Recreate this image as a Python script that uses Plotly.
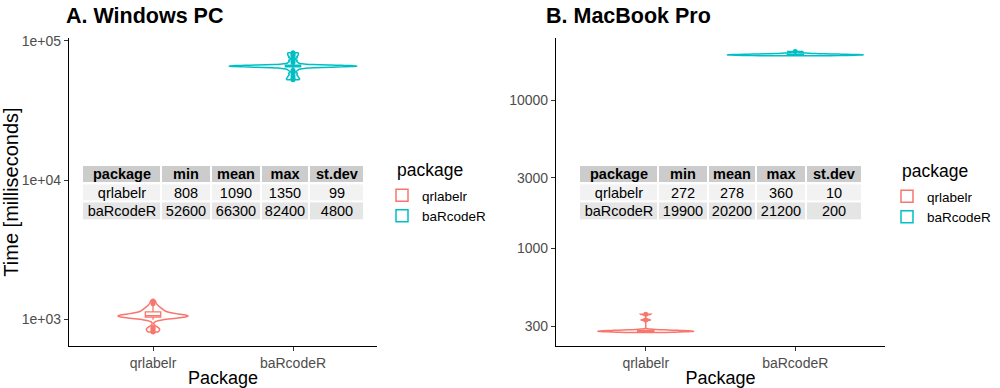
import plotly.graph_objects as go

# ---------------- data ----------------
packages = ["qrlabelr", "baRcodeR"]

# timing samples (milliseconds)
win_qrlabelr = [808, 830, 850, 870, 990, 1010, 1020, 1025, 1030, 1035, 1040,
                1040, 1045, 1045, 1050, 1050, 1055, 1055, 1060, 1065, 1070, 1075,
                1080, 1090, 1100, 1110, 1120, 1135, 1150, 1165, 1180, 1200, 1220,
                1250, 1290, 1350]
win_barcoder = [52600, 54000, 56000, 58500, 61500, 63500, 64500, 65200, 65600,
                65750, 65800, 65850, 65900, 65950, 66000, 66000, 66050, 66100,
                66150, 66200, 66300, 66500, 67000, 68000, 70000, 72500, 76000,
                78500, 80500, 82400]
mac_qrlabelr = [272, 273, 274, 275, 275, 276, 276, 277, 277, 278, 278, 279, 279,
                280, 281, 282, 284, 330, 360]
mac_barcoder = [19900, 19950, 20000, 20050, 20100, 20100, 20150, 20200, 20200,
                20250, 20300, 20350, 20400, 20500, 20700, 21200]

table_header = ["package", "min", "mean", "max", "st.dev"]
win_min = [808, 52600]
win_mean = [1090, 66300]
win_max = [1350, 82400]
win_sd = [99, 4800]
mac_min = [272, 19900]
mac_mean = [278, 20200]
mac_max = [360, 21200]
mac_sd = [10, 200]

win_ticks = [1e3, 1e4, 1e5]
win_ticktext = ["1e+03", "1e+04", "1e+05"]
mac_ticks = [300, 1000, 3000, 10000]
mac_ticktext = ["300", "1000", "3000", "10000"]

# ---------------- style ----------------
RED = "#F8766D"
TEAL = "#00BFC4"
FONT = "Liberation Sans"
W, H = 1000, 388


def px_x(p):
    return p / W


def px_y(p):
    return 1 - p / H


fig = go.Figure()


def add_violin(vals, cat, color, vwidth, bwidth, xa, ya, leg, bw=None):
    fig.add_trace(go.Violin(
        x=[cat] * len(vals), y=vals, name=cat, legendgroup=cat + leg,
        legend=leg, showlegend=True,
        line=dict(color=color, width=1.5), fillcolor="rgba(255,255,255,0)",
        width=vwidth, spanmode="hard", scalemode="width", bandwidth=bw,
        box=dict(visible=True, width=bwidth, fillcolor="white",
                 line=dict(color=color, width=1.3)),
        meanline=dict(visible=False),
        points="outliers", pointpos=0, jitter=0,
        marker=dict(color=color, size=5),
        xaxis=xa, yaxis=ya, hoverinfo="skip"))


add_violin(win_qrlabelr, "qrlabelr", RED, 0.5, 0.22, "x", "y", "legend", 30)
add_violin(win_barcoder, "baRcodeR", TEAL, 0.91, 0.12, "x", "y", "legend", 1000)
add_violin(mac_qrlabelr, "qrlabelr", RED, 0.64, 0.17, "x2", "y2", "legend2")
add_violin(mac_barcoder, "baRcodeR", TEAL, 0.91, 0.12, "x2", "y2", "legend2")


# ---- summary tables drawn as heatmap bricks (header + 2 rows) ----
def add_table(xa, ya, cols, widths):
    edges = [0]
    for w in widths:
        edges.append(edges[-1] + w)
    nrows = len(cols[0])
    cs = [[0, "#cccccc"], [0.5, "#f2f2f2"], [1, "#e5e5e5"]]
    fig.add_trace(go.Heatmap(
        x=edges, y=[0], z=[[0] * len(cols)], text=[table_header],
        texttemplate="%{text}", zmin=0, zmax=2, colorscale=cs,
        showscale=False, xgap=2, ygap=2, hoverinfo="skip",
        textfont=dict(family=FONT, size=14.5, color="black", weight="bold"),
        xaxis=xa, yaxis=ya, showlegend=False))
    body_text = [[str(c[r]) for c in cols] for r in range(nrows)]
    body_z = [[1 + (r % 2)] * len(cols) for r in range(nrows)]
    fig.add_trace(go.Heatmap(
        x=edges, y=list(range(1, nrows + 1)), z=body_z, text=body_text,
        texttemplate="%{text}", zmin=0, zmax=2, colorscale=cs,
        showscale=False, xgap=2, ygap=2, hoverinfo="skip",
        textfont=dict(family=FONT, size=14.5, color="black"),
        xaxis=xa, yaxis=ya, showlegend=False))
    return edges[-1]


tw1 = add_table("x3", "y3", [packages, win_min, win_mean, win_max, win_sd],
                [79, 50, 50, 48, 55])
tw2 = add_table("x4", "y4", [packages, mac_min, mac_mean, mac_max, mac_sd],
                [79, 50, 48, 50, 56])

axis_common = dict(showline=True, linecolor="black", linewidth=1.2,
                   ticks="outside", ticklen=4, tickcolor="#333333",
                   showgrid=False, zeroline=False, automargin=False,
                   tickfont=dict(family=FONT, size=14, color="#4d4d4d"))
hidden = dict(visible=False, showgrid=False, zeroline=False, fixedrange=True,
              automargin=False)

ydom = [px_y(346), px_y(38)]
tdom_y = [px_y(220), px_y(165)]

fig.update_layout(
    width=W, height=H,
    margin=dict(l=0, r=0, t=0, b=0, autoexpand=False),
    paper_bgcolor="white", plot_bgcolor="rgba(0,0,0,0)",
    violinmode="overlay",
    font=dict(family=FONT, color="black"),
    xaxis=dict(domain=[px_x(69), px_x(377)], anchor="y", type="category",
               categoryorder="array", categoryarray=packages, range=[-0.6, 1.6],
               title=dict(text="Package", font=dict(size=18, family=FONT), standoff=3),
               **axis_common),
    yaxis=dict(domain=ydom, anchor="x", type="log", range=[2.806, 5.0215],
               tickvals=win_ticks, ticktext=win_ticktext,
               title=dict(text="Time [milliseconds]", font=dict(size=20, family=FONT), standoff=4),
               **axis_common),
    xaxis2=dict(domain=[px_x(556), px_x(885)], anchor="y2", type="category",
                categoryorder="array", categoryarray=packages, range=[-0.6, 1.6],
                title=dict(text="Package", font=dict(size=18, family=FONT), standoff=3),
                **axis_common),
    yaxis2=dict(domain=ydom, anchor="x2", type="log", range=[2.343, 4.418],
                tickvals=mac_ticks, ticktext=mac_ticktext, **axis_common),
    xaxis3=dict(domain=[px_x(82), px_x(82 + tw1)], anchor="y3", range=[0, tw1], **hidden),
    yaxis3=dict(domain=tdom_y, anchor="x3", range=[2.5, -0.5], **hidden),
    xaxis4=dict(domain=[px_x(579), px_x(579 + tw2)], anchor="y4", range=[0, tw2], **hidden),
    yaxis4=dict(domain=tdom_y, anchor="x4", range=[2.5, -0.5], **hidden),
    legend=dict(x=px_x(382), y=px_y(180), xanchor="left", yanchor="top",
                font=dict(size=13.5, family=FONT), tracegroupgap=0,
                bgcolor="rgba(0,0,0,0)"),
    legend2=dict(x=px_x(887), y=px_y(181), xanchor="left", yanchor="top",
                 font=dict(size=13.5, family=FONT), tracegroupgap=0,
                 bgcolor="rgba(0,0,0,0)"),
    annotations=[
        dict(text="<b>A. Windows PC</b>", x=px_x(64), y=px_y(16.5), xref="paper",
             yref="paper", xanchor="left", yanchor="middle", showarrow=False,
             font=dict(family=FONT, size=21.5, color="black")),
        dict(text="<b>B. MacBook Pro</b>", x=px_x(544), y=px_y(16.5), xref="paper",
             yref="paper", xanchor="left", yanchor="middle", showarrow=False,
             font=dict(family=FONT, size=21.5, color="black")),
        dict(text="package", x=px_x(395), y=px_y(170), xref="paper",
             yref="paper", xanchor="left", yanchor="middle", showarrow=False,
             font=dict(family=FONT, size=17.5, color="black")),
        dict(text="package", x=px_x(900), y=px_y(171), xref="paper",
             yref="paper", xanchor="left", yanchor="middle", showarrow=False,
             font=dict(family=FONT, size=17.5, color="black")),
    ],
)

fig.write_html("out.html", config={"displayModeBar": False},
               post_script="document.body.style.margin='0px';")
